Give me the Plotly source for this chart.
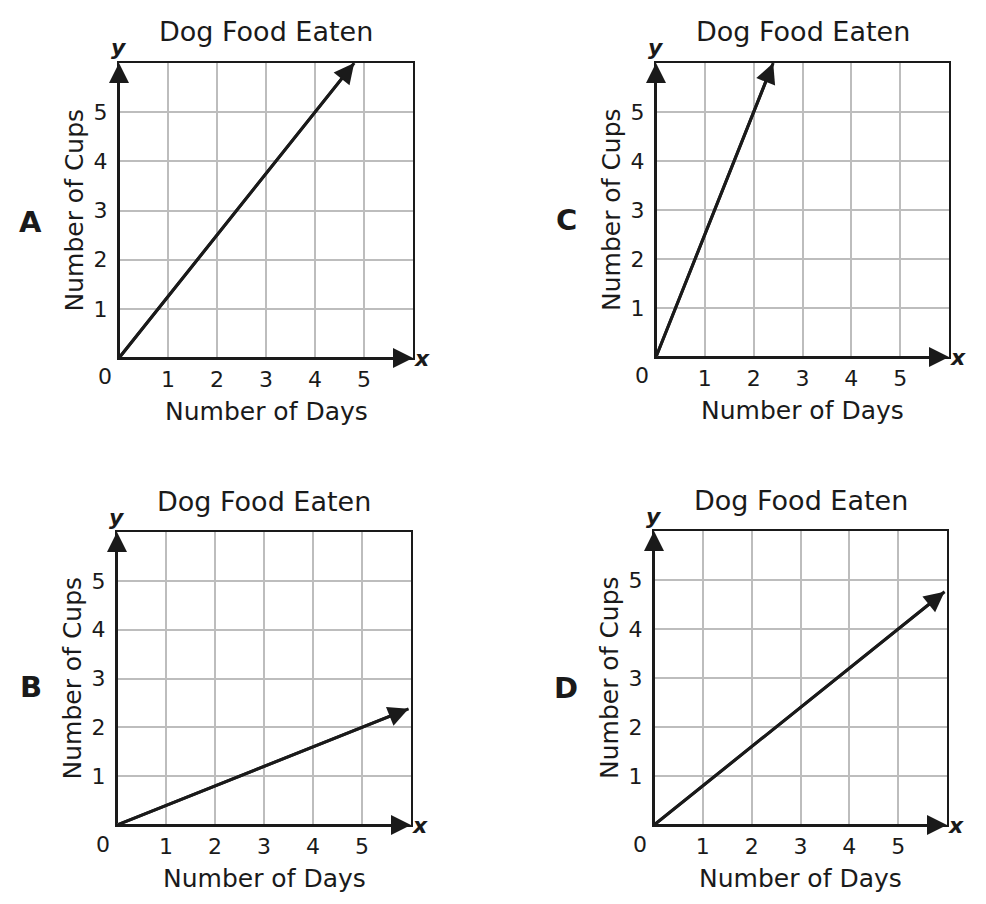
import plotly.graph_objects as go

# four answer choices, each a straight line from the origin
panel_names = ["A", "B", "C", "D"]
end_days = [4.8, 5.95, 2.4, 5.95]
end_cups = [6.0, 2.38, 6.0, 4.76]
days_ticks = [1, 2, 3, 4, 5]
cups_ticks = [1, 2, 3, 4, 5]
axis_max = 6

title_text = "Dog Food Eaten"
x_title = "Number of Days"
y_title = "Number of Cups"

ink = "#1a1a1a"
grid = "#bdbdbd"
font = "DejaVu Sans"

W, H = 986, 904
OFF = 8  # page body margin the figure sits inside


def px_x(v):
    return (v - OFF) / W


def px_y(v):
    return 1 - (v - OFF) / H


# plot-area boxes in screen pixels: left, right, top, bottom
boxes = {
    "A": (119, 413, 63, 358),
    "C": (656, 949, 63, 357),
    "B": (117, 411, 532, 825),
    "D": (654, 947, 531, 825),
}
letter_px = {"A": (30, 222), "B": (31, 687), "C": (566, 220), "D": (566, 688)}

fig = go.Figure()
annotations = []

for i, name in enumerate(panel_names):
    n = i + 1
    xr = "x" if n == 1 else f"x{n}"
    yr = "y" if n == 1 else f"y{n}"
    l, r, t, b = boxes[name]
    xd = [px_x(l), px_x(r)]
    yd = [px_y(b), px_y(t)]

    fig.add_trace(go.Scatter(
        x=[0, end_days[i]], y=[0, end_cups[i]], mode="lines",
        line=dict(color=ink, width=3), xaxis=xr, yaxis=yr,
        showlegend=False, hoverinfo="skip", cliponaxis=False))

    common = dict(range=[0, axis_max], showgrid=True, gridcolor=grid, gridwidth=1.5,
                  zeroline=False, showline=True, mirror=True, linecolor=ink,
                  linewidth=2, ticks="",
                  tickfont=dict(family=font, size=22, color=ink), fixedrange=True)
    fig.layout[("xaxis" if n == 1 else f"xaxis{n}")] = dict(
        common, domain=xd, anchor=yr, tickvals=days_ticks, ticklabelstandoff=1)
    fig.layout[("yaxis" if n == 1 else f"yaxis{n}")] = dict(
        common, domain=yd, anchor=xr, tickvals=cups_ticks, ticklabelstandoff=5)

    xdom = f"{xr} domain"
    ydom = f"{yr} domain"
    # data line arrow head
    annotations.append(dict(x=end_days[i], y=end_cups[i], ax=0, ay=0, xref=xr, yref=yr,
                            axref=xr, ayref=yr, showarrow=True, arrowhead=2, arrowsize=1.35,
                            arrowwidth=3, arrowcolor=ink, text="", standoff=0))
    # axis arrows
    annotations.append(dict(x=axis_max, y=0, ax=0, ay=0, xref=xr, yref=yr,
                            axref=xr, ayref=yr, showarrow=True, arrowhead=2, arrowsize=2.0,
                            arrowwidth=2, arrowcolor=ink, text="", standoff=0))
    annotations.append(dict(x=0, y=axis_max, ax=0, ay=0, xref=xr, yref=yr,
                            axref=xr, ayref=yr, showarrow=True, arrowhead=2, arrowsize=2.0,
                            arrowwidth=2, arrowcolor=ink, text="", standoff=0))
    # texts
    mid = dict(xanchor="center", yanchor="middle", showarrow=False)
    annotations.append(dict(mid, x=0.5, y=1, xref=xdom, yref=ydom, yshift=31,
                            text=title_text, font=dict(family=font, size=27, color=ink)))
    annotations.append(dict(mid, x=0.5, y=0, xref=xdom, yref=ydom, yshift=-53,
                            text=x_title, font=dict(family=font, size=25, color=ink)))
    annotations.append(dict(mid, x=0, y=0.5, xref=xdom, yref=ydom, xshift=-45,
                            textangle=-90, text=y_title,
                            font=dict(family=font, size=25, color=ink)))
    annotations.append(dict(mid, x=0, y=0, xref=xr, yref=yr, xshift=-14, yshift=-19,
                            text="0", font=dict(family=font, size=22, color=ink)))
    annotations.append(dict(mid, x=0, y=1, xref=xdom, yref=ydom, yshift=15,
                            text="<b><i>y</i></b>", font=dict(family=font, size=22, color=ink)))
    annotations.append(dict(mid, x=1, y=0, xref=xdom, yref=ydom, xshift=9,
                            text="<b><i>x</i></b>", font=dict(family=font, size=22, color=ink)))
    lx, ly = letter_px[name]
    annotations.append(dict(mid, x=px_x(lx), y=px_y(ly), xref="paper", yref="paper",
                            text=f"<b>{name}</b>", font=dict(family=font, size=29, color=ink)))

fig.update_layout(width=W, height=H, margin=dict(l=0, r=0, t=0, b=0),
                  paper_bgcolor="white", plot_bgcolor="white",
                  annotations=annotations, showlegend=False)

fig.write_html("out.html")
